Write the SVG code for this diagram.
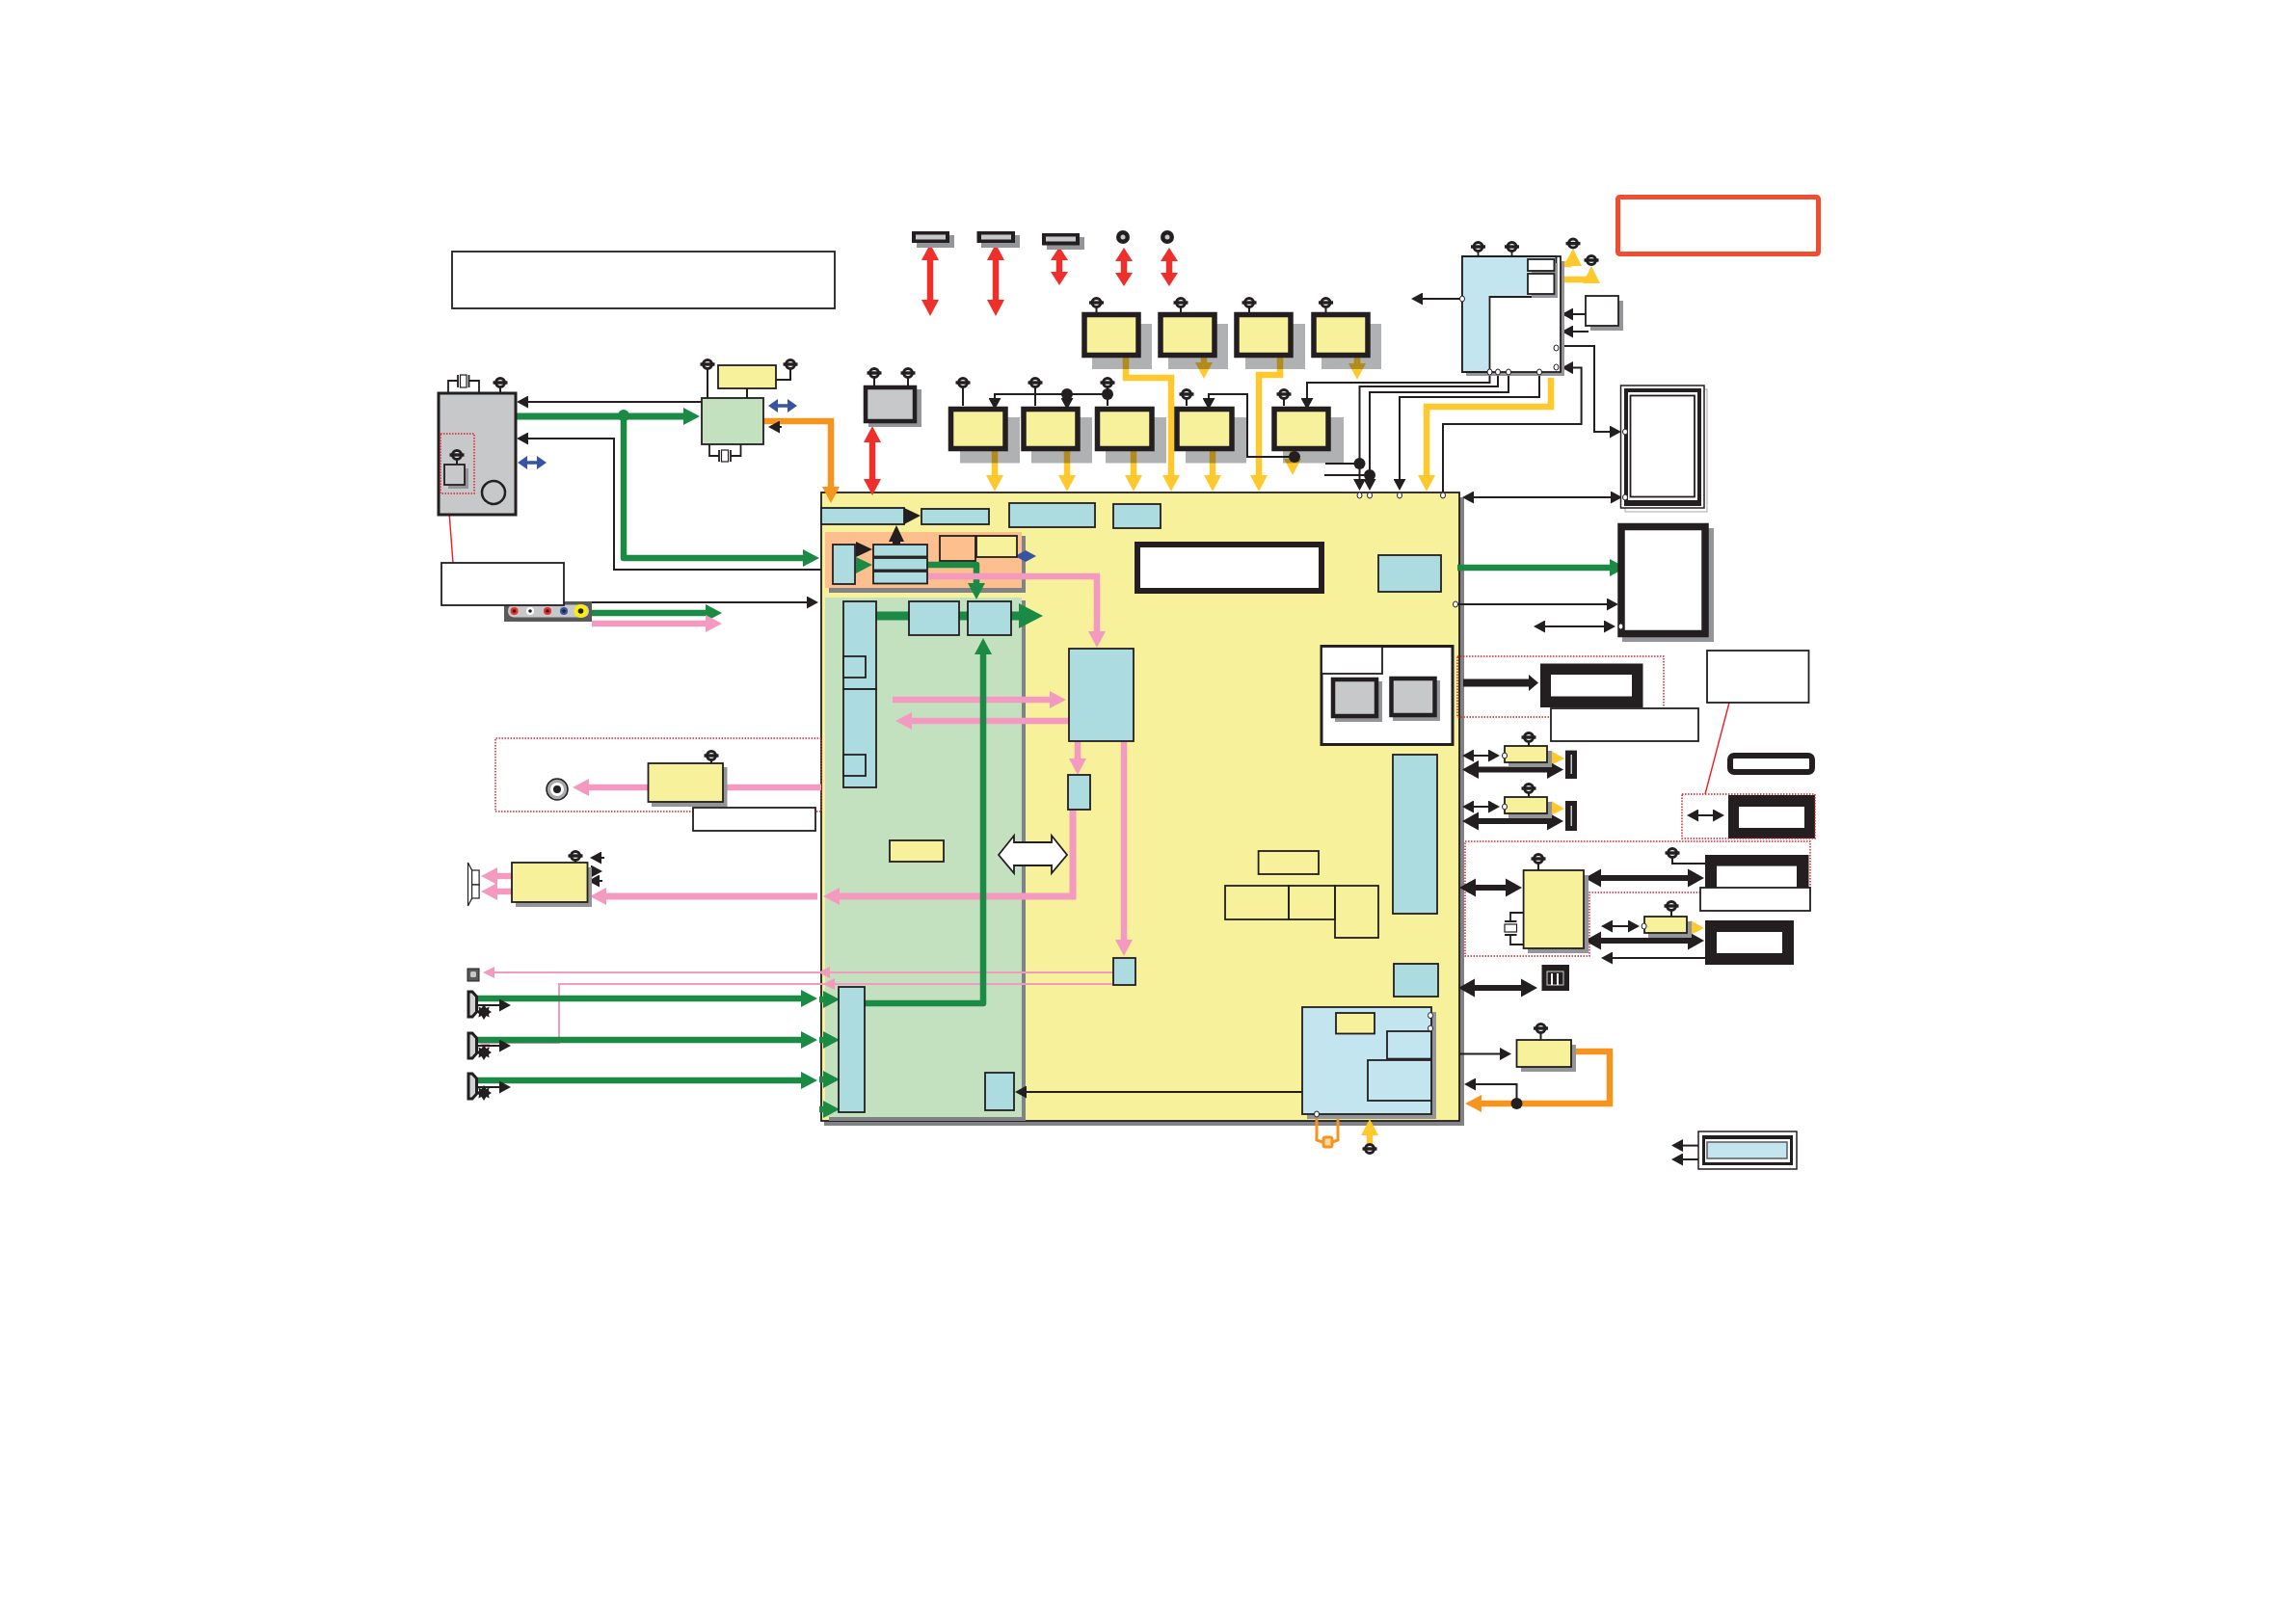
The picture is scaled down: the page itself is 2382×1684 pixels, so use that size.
<svg xmlns="http://www.w3.org/2000/svg" width="2382" height="1684" viewBox="0 0 2382 1684">
<style>
.n{stroke:#231f20;stroke-width:1.8}
.w{fill:#fff}.yb{fill:#f6f19a}.t{fill:#acdce0}.lb{fill:#c2e5ef}.gb{fill:#c4e1bf}.ob{fill:#fdbf8d}.gy{fill:#c7c8ca}
.nl{fill:none}
.sh{fill:#939598}.sl{fill:#b0b1b3;mix-blend-mode:multiply}.bar{fill:#808285}
.tb{stroke:#231f20;stroke-width:5.5}
.k{stroke:#231f20;stroke-width:2;fill:none}
.ks{stroke:#231f20;stroke-width:1.8;fill:none}
.kb{fill:#231f20}
.g{stroke:#1b8a44;stroke-width:6.5;fill:none;stroke-linejoin:round}
.p{stroke:#f49ac1;stroke-width:6.5;fill:none}
.pt{stroke:#f49ac1;stroke-width:2;fill:none}
.y{stroke:#ffc82c;stroke-width:6.5;fill:none}
.o{stroke:#f7941e;stroke-width:6.5;fill:none}
.r{stroke:#ee2f2b;stroke-width:6.5;fill:none}
.bl{stroke:#3953a4;stroke-width:3.5;fill:none}
.kt{stroke:#231f20;stroke-width:6;fill:none}
.dot{fill:none;stroke:#e2202c;stroke-width:1.5;stroke-dasharray:1.5 1.5}
.port{fill:#fff;stroke:#231f20;stroke-width:1}
</style>
<defs>
<marker id="hG" markerUnits="userSpaceOnUse" markerWidth="18" markerHeight="18" refX="1" refY="9" viewBox="0 0 18 18" orient="auto-start-reverse"><path d="M0 0L17 9L0 18Z" fill="#1b8a44"/></marker>
<marker id="hGL" markerUnits="userSpaceOnUse" markerWidth="26" markerHeight="26" refX="1" refY="13" viewBox="0 0 26 26" orient="auto"><path d="M0 0L25 13L0 26Z" fill="#1b8a44"/></marker>
<marker id="hP" markerUnits="userSpaceOnUse" markerWidth="18" markerHeight="18" refX="1" refY="9" viewBox="0 0 18 18" orient="auto-start-reverse"><path d="M0 0L17 9L0 18Z" fill="#f49ac1"/></marker>
<marker id="hPs" markerUnits="userSpaceOnUse" markerWidth="12" markerHeight="12" refX="1" refY="6" viewBox="0 0 12 12" orient="auto"><path d="M0 0L12 6L0 12Z" fill="#f49ac1"/></marker>
<marker id="hY" markerUnits="userSpaceOnUse" markerWidth="18" markerHeight="18" refX="1" refY="9" viewBox="0 0 18 18" orient="auto"><path d="M0 0L17 9L0 18Z" fill="#ffc82c"/></marker>
<marker id="hO" markerUnits="userSpaceOnUse" markerWidth="18" markerHeight="18" refX="1" refY="9" viewBox="0 0 18 18" orient="auto"><path d="M0 0L17 9L0 18Z" fill="#f7941e"/></marker>
<marker id="hR" markerUnits="userSpaceOnUse" markerWidth="18" markerHeight="18" refX="1" refY="9" viewBox="0 0 18 18" orient="auto-start-reverse"><path d="M0 0L17 9L0 18Z" fill="#ee2f2b"/></marker>
<marker id="hRs" markerUnits="userSpaceOnUse" markerWidth="15" markerHeight="18" refX="1" refY="9" viewBox="0 0 15 18" orient="auto-start-reverse"><path d="M0 0L14 9L0 18Z" fill="#ee2f2b"/></marker>
<marker id="hK" markerUnits="userSpaceOnUse" markerWidth="13" markerHeight="13" refX="1" refY="6.5" viewBox="0 0 13 13" orient="auto-start-reverse"><path d="M0 0L12 6.500L0 13Z" fill="#231f20"/></marker>
<marker id="hKL" markerUnits="userSpaceOnUse" markerWidth="18" markerHeight="20" refX="1" refY="10" viewBox="0 0 18 20" orient="auto-start-reverse"><path d="M0 0.500L17 10L0 19.500Z" fill="#231f20"/></marker>
<marker id="hKM" markerUnits="userSpaceOnUse" markerWidth="11" markerHeight="18" refX="1" refY="9" viewBox="0 0 11 18" orient="auto"><path d="M0 0.5L10 9L0 17.5Z" fill="#231f20"/></marker>
<marker id="hB" markerUnits="userSpaceOnUse" markerWidth="11" markerHeight="14" refX="1" refY="7" viewBox="0 0 11 14" orient="auto-start-reverse"><path d="M0 0L10 7L0 14Z" fill="#3953a4"/></marker>
<g id="pw"><circle r="4.5" fill="#fff" stroke="#231f20" stroke-width="3"/><rect x="-7.500" y="-1.700" width="15" height="3.400" fill="#231f20"/></g>
<polygon id="st" fill="#231f20" points="0,-8 2.500,-4 5.600,-5.600 5,-2 8,0 5,2 5.600,5.600 2.500,4 0,8 -2.500,4 -5.600,5.600 -5,2 -8,0 -5,-2 -5.600,-5.600 -2.500,-4"/>
<path id="plug" d="M0 0H4L8.500 5V21L4 26H0Z" fill="#d1d3d4" stroke="#231f20" stroke-width="3"/>
</defs>

<g id="chip-board">
<rect x="855" y="516" width="664" height="652" class="bar"/>
<rect x="852" y="511" width="662" height="652" class="yb n"/>
<rect x="860" y="556" width="204" height="59" class="bar"/>
<rect x="856" y="552" width="204" height="58" class="ob"/>
<rect x="860" y="623" width="204" height="540" class="bar"/>
<rect x="856" y="620" width="204" height="539" class="gb"/>
</g>

<g id="dotted-frames">
<path class="dot" d="M852 766H514V842H852V766"/>
<path class="dot" d="M1512 681H1726V744H1512Z"/>
<path class="dot" d="M1520 873H1878V926H1649V992H1520Z"/>
</g>

<g id="connectors">
<path class="g" d="M535 432H710" marker-end="url(#hG)" style="stroke-width:7"/>
<path class="g" d="M647 432V579H834" marker-end="url(#hG)"/>
<path class="g" d="M614 636H733" marker-end="url(#hG)"/>
<path class="g" d="M962 586H1013V606" marker-end="url(#hG)"/>
<path class="g" d="M909 639H1058" marker-end="url(#hGL)" style="stroke-width:9"/>
<path class="p" d="M614 647H733" marker-end="url(#hP)"/>
<path class="p" d="M962 598H1138V656" marker-end="url(#hP)"/>
<path class="p" d="M926 726H1090" marker-end="url(#hP)"/>
<path class="p" d="M1109 748H945" marker-end="url(#hP)"/>
<path class="p" d="M1118 769V788" marker-end="url(#hP)"/>
<path class="p" d="M1113 840V930H870" marker-end="url(#hP)" style="stroke-width:7"/>
<path class="p" d="M1166 769V976" marker-end="url(#hP)"/>
<path class="p" d="M852 817H750"/>
<path class="p" d="M672 817H610" marker-end="url(#hP)"/>
<path class="p" d="M848 930H628" marker-end="url(#hP)" style="stroke-width:7"/>
<path class="p" d="M531 909H515" marker-end="url(#hP)"/>
<path class="p" d="M531 925H515" marker-end="url(#hP)"/>
<path class="pt" d="M1155 1009H512" marker-end="url(#hPs)"/>
<path class="pt" d="M872 1009H860" marker-end="url(#hPs)"/>
<path class="pt" d="M1155 1021H580V1082H507" marker-end="url(#hPs)"/>
<path class="pt" d="M880 1021H865" marker-end="url(#hPs)"/>
<path class="g" d="M897 1041H1020V678" marker-end="url(#hG)"/>
<path class="g" d="M494 1036H832" marker-end="url(#hG)"/>
<path class="g" d="M494 1079H832" marker-end="url(#hG)"/>
<path class="g" d="M494 1121H832" marker-end="url(#hG)"/>
<path class="g" d="M850 1037H855" marker-end="url(#hG)"/>
<path class="g" d="M850 1079H855" marker-end="url(#hG)"/>
<path class="g" d="M850 1120H855" marker-end="url(#hG)"/>
<path class="g" d="M850 1151H855" marker-end="url(#hG)"/>
<path class="g" d="M1512 589H1671" marker-end="url(#hG)"/>
<polygon points="888,578 905,586 888,595" fill="#1b8a44"/>
<circle cx="647" cy="431" r="6" fill="#1b8a44"/>
<path class="y" d="M1168 371V392H1215V494" marker-end="url(#hY)"/>
<path class="y" d="M1249 371V377" marker-end="url(#hY)"/>
<path class="y" d="M1328 371V389H1306V494" marker-end="url(#hY)"/>
<path class="y" d="M1408 371V378" marker-end="url(#hY)"/>
<path class="y" d="M1032 468V494" marker-end="url(#hY)"/>
<path class="y" d="M1107 468V494" marker-end="url(#hY)"/>
<path class="y" d="M1176 468V494" marker-end="url(#hY)"/>
<path class="y" d="M1258 468V494" marker-end="url(#hY)"/>
<path class="y" d="M1341 468V477" marker-end="url(#hY)"/>
<path class="y" d="M1609 392V422H1480V494" marker-end="url(#hY)"/>
<path class="y" d="M1612 274H1630"/>
<polygon points="1622,276 1632,258 1641,276" fill="#ffc82c"/>
<path class="y" d="M1618 290H1651"/>
<polygon points="1642,294 1651,276 1660,294" fill="#ffc82c"/>
<path class="y" d="M1421 1188V1177" marker-end="url(#hY)"/>
<polygon points="1609,779 1623,787 1609,794" fill="#ffc82c"/>
<polygon points="1609,831 1623,839 1609,846" fill="#ffc82c"/>
<polygon points="1754,955 1768,963 1754,970" fill="#ffc82c"/>
<path class="o" d="M792 437H862V506" marker-end="url(#hO)"/>
<path class="o" d="M1630 1091H1670V1145H1536" marker-end="url(#hO)"/>
<path d="M1366 1156V1183L1372 1185M1388 1156V1183L1382 1185" fill="none" stroke="#f7941e" stroke-width="3"/>
<rect x="1373" y="1180" width="9" height="10" rx="2" fill="#fdd9a8" stroke="#f7941e" stroke-width="3"/>
<path class="r" d="M905 458V498" marker-start="url(#hR)" marker-end="url(#hR)"/>
<path class="r" d="M965 269V312" marker-start="url(#hR)" marker-end="url(#hR)"/>
<path class="r" d="M1033 269V312" marker-start="url(#hR)" marker-end="url(#hR)"/>
<path class="r" d="M1099 269V283" marker-start="url(#hRs)" marker-end="url(#hRs)"/>
<path class="r" d="M1166 270V284" marker-start="url(#hRs)" marker-end="url(#hRs)"/>
<path class="r" d="M1213 270V284" marker-start="url(#hRs)" marker-end="url(#hRs)"/>
<path class="bl" d="M806 421H818" marker-start="url(#hB)" marker-end="url(#hB)"/>
<path class="bl" d="M546 480H558" marker-start="url(#hB)" marker-end="url(#hB)"/>
<polygon points="1053,577 1064,571 1075,577 1064,583" fill="#3953a4"/>
<path class="k" d="M728 417H547" marker-end="url(#hK)"/>
<path class="k" d="M852 591H637V455H547" marker-end="url(#hK)"/>
<path class="k" d="M614 625H838" marker-end="url(#hK)"/>
<path class="k" d="M811 443H808" marker-end="url(#hK)"/>
<path class="k" d="M1149 409H1032V414" marker-end="url(#hK)"/>
<path class="k" d="M1107 409V414" marker-end="url(#hK)"/>
<path class="k" d="M1343 474H1294V409H1254V414" marker-end="url(#hK)"/>
<path class="k" d="M1545.500 386V397H1356V414" marker-end="url(#hK)"/>
<path class="k" d="M1554 386V401H1410.500V498" marker-end="url(#hK)"/>
<path class="k" d="M1565 386V407H1421V498" marker-end="url(#hK)"/>
<path class="k" d="M1597 386V412H1452V498" marker-end="url(#hK)"/>
<path class="k" d="M1375 481H1410M1374 493H1421"/>
<path class="k" d="M1614.500 359H1654V448H1671" marker-end="url(#hK)"/>
<path class="k" d="M1497 514V440H1640.600V381.600H1631" marker-end="url(#hK)"/>
<path class="k" d="M1517 310H1475" marker-end="url(#hK)"/>
<path class="k" d="M1645 326H1631" marker-end="url(#hK)"/>
<path class="k" d="M1648 344H1631" marker-end="url(#hK)"/>
<path class="k" d="M1528 516H1672" marker-start="url(#hK)" marker-end="url(#hK)"/>
<path class="k" d="M1510 627H1668" marker-end="url(#hK)"/>
<path class="k" d="M1602 650H1665" marker-start="url(#hK)" marker-end="url(#hK)"/>
<path class="k" d="M1528 784H1545" marker-start="url(#hK)" marker-end="url(#hK)"/>
<path class="k" d="M1528 837H1545" marker-start="url(#hK)" marker-end="url(#hK)"/>
<path class="k" d="M1672 961H1690" marker-start="url(#hK)" marker-end="url(#hK)"/>
<path class="k" d="M1769 994H1672" marker-end="url(#hK)"/>
<path class="k" d="M1761 846H1778" marker-start="url(#hK)" marker-end="url(#hK)"/>
<path class="k" d="M1514 1093.600H1557" marker-end="url(#hK)"/>
<path class="k" d="M1573.500 1145V1125H1530" marker-end="url(#hK)"/>
<path class="k" d="M1762 1188.600H1745" marker-end="url(#hK)"/>
<path class="k" d="M1762 1203H1745" marker-end="url(#hK)"/>
<path class="k" d="M1366 1156V1133H1064" marker-end="url(#hK)"/>
<path class="k" d="M495 1043H519" marker-end="url(#hK)"/>
<path class="k" d="M495 1085H519" marker-end="url(#hK)"/>
<path class="k" d="M495 1128H519" marker-end="url(#hK)"/>
<path class="k" d="M627 890H623" marker-end="url(#hK)"/>
<path class="k" d="M610 904H614" marker-end="url(#hK)"/>
<path class="k" d="M625 914H621" marker-end="url(#hK)"/>
<path class="kt" d="M1518 708.600H1587" marker-end="url(#hKM)" style="stroke-width:8"/>
<path class="kt" d="M1533 798.600H1606" marker-start="url(#hKL)" marker-end="url(#hKL)"/>
<path class="kt" d="M1533 852H1606" marker-start="url(#hKL)" marker-end="url(#hKL)"/>
<path class="kt" d="M1530 921H1563" marker-start="url(#hKL)" marker-end="url(#hKL)"/>
<path class="kt" d="M1660 911H1752" marker-start="url(#hKL)" marker-end="url(#hKL)"/>
<path class="kt" d="M1660 976H1752" marker-start="url(#hKL)" marker-end="url(#hKL)"/>
<path class="kt" d="M1529 1025H1579" marker-start="url(#hKL)" marker-end="url(#hKL)"/>
<polygon class="kb" points="938,527 955,535 938,544"/>
<polygon class="kb" points="922,562 930,545 938,562 934,562 934,565 926,565 926,562"/>
<polygon class="kb" points="888,562 905,570 888,578"/>
<circle class="kb" cx="1149" cy="409" r="6"/><circle class="kb" cx="1107" cy="409" r="6"/>
<circle class="kb" cx="1410.500" cy="481" r="6"/><circle class="kb" cx="1421" cy="493" r="6"/>
<circle class="kb" cx="1573.500" cy="1145" r="6"/>
<path d="M464.500 512L470 584" stroke="#ed1c24" stroke-width="1.400" fill="none"/>
<path d="M1794 729L1769 824" stroke="#ed1c24" stroke-width="1.400" fill="none"/>
</g>

<g id="note-top"><rect x="469" y="261" width="397" height="59" class="w n"/></g>
<g id="note-red"><rect x="1678.500" y="204.500" width="208" height="59" rx="2" fill="#fff" stroke="#f04e30" stroke-width="5"/></g>

<g id="hdd">
<rect x="455" y="408" width="80" height="126" class="gy" stroke="#231f20" stroke-width="3"/>
<path class="ks" d="M465 408V395H475M475 389V402M486.500 389V402M486.500 395H497V408"/><rect x="477.500" y="389" width="6.500" height="13" class="w n" style="stroke-width:1.200"/>
<path class="k" d="M519 397V408M474 472V482"/><use href="#pw" x="519" y="397"/><use href="#pw" x="474" y="472"/>
<rect x="457" y="450" width="35" height="62" class="dot"/>
<rect x="465" y="486" width="21" height="21" class="sh"/>
<rect x="461" y="482" width="21" height="21" class="gy n"/>
<circle cx="512" cy="511" r="12" fill="none" stroke="#231f20" stroke-width="2.500"/>
</g>

<g id="bridge">
<path class="k" d="M734 378V413M820 378V394H805M775 403V413"/>
<use href="#pw" x="734" y="378"/><use href="#pw" x="820" y="378"/>
<rect x="745" y="379" width="60" height="24" class="yb n"/>
<rect x="728" y="413" width="64" height="48" class="gb n"/>
<path class="ks" d="M736 461V473H746M746 467V479M758 467V479M758 473H768.500V461"/><rect x="748.500" y="467" width="7" height="12" class="w n" style="stroke-width:1.200"/>
</g>

<g id="gray-chip">
<path class="k" d="M907 387V400M942 387V400"/><use href="#pw" x="907" y="387"/><use href="#pw" x="942" y="387"/>
<rect x="901" y="404" width="55" height="39" class="sh"/>
<rect x="898" y="402" width="51" height="35" class="gy tb" style="stroke-width:4.500"/>
</g>

<g id="usb-1"><rect x="951" y="244" width="39" height="13" class="sh"/><rect x="946" y="240" width="39" height="12" class="kb"/><rect x="950" y="243.500" width="31" height="5" class="gy"/></g>
<g id="usb-2"><rect x="1018" y="244" width="40" height="13" class="sh"/><rect x="1013.500" y="240" width="39.500" height="12" class="kb"/><rect x="1018" y="243.500" width="31" height="5" class="gy"/></g>
<g id="usb-3"><rect x="1086" y="246" width="39" height="13" class="sh"/><rect x="1081" y="242" width="39" height="12.500" class="kb"/><rect x="1085" y="245.500" width="31" height="5" class="gy"/></g>
<g id="jack-1"><circle cx="1165" cy="246" r="7" class="kb"/><circle cx="1165" cy="246" r="2.500" class="gy"/></g>
<g id="jack-2"><circle cx="1211" cy="246" r="7" class="kb"/><circle cx="1211" cy="246" r="2.500" class="gy"/></g>

<g id="u1"><rect x="1133" y="336" width="62" height="47" class="sl"/><path class="k" d="M1137.500 314V324"/><use href="#pw" x="1137.500" y="314"/><rect x="1125" y="326.500" width="56" height="42" class="yb tb"/></g>
<g id="u2"><rect x="1212" y="336" width="62" height="47" class="sl"/><path class="k" d="M1225 314V324"/><use href="#pw" x="1225" y="314"/><rect x="1204" y="326.500" width="56" height="42" class="yb tb"/></g>
<g id="u3"><rect x="1292" y="336" width="62" height="47" class="sl"/><path class="k" d="M1296 314V324"/><use href="#pw" x="1296" y="314"/><rect x="1283" y="326.500" width="56" height="42" class="yb tb"/></g>
<g id="u4"><rect x="1371" y="336" width="62" height="47" class="sl"/><path class="k" d="M1375.500 314V324"/><use href="#pw" x="1375.500" y="314"/><rect x="1363" y="326.500" width="56" height="42" class="yb tb"/></g>

<g id="l1"><rect x="996" y="433" width="62" height="47.500" class="sl"/><path class="k" d="M999 397V421"/><use href="#pw" x="999" y="397"/><rect x="986.500" y="424.500" width="56.500" height="41" class="yb tb"/></g>
<g id="l2"><rect x="1070" y="433" width="63" height="47.500" class="sl"/><path class="k" d="M1074 397V421"/><use href="#pw" x="1074" y="397"/><rect x="1062" y="424.500" width="56" height="41" class="yb tb"/></g>
<g id="l3"><rect x="1147" y="433" width="63" height="47.500" class="sl"/><path class="k" d="M1149 397V421"/><use href="#pw" x="1149" y="397"/><rect x="1138.500" y="424.500" width="56.500" height="41" class="yb tb"/></g>
<g id="l4"><rect x="1230" y="433" width="63" height="47.500" class="sl"/><path class="k" d="M1231 409V421"/><use href="#pw" x="1231" y="409"/><rect x="1221" y="424.500" width="57" height="41" class="yb tb"/></g>
<g id="l5"><rect x="1331" y="433" width="63" height="47.500" class="sl"/><path class="k" d="M1332 409V421"/><use href="#pw" x="1332" y="409"/><rect x="1322" y="424.500" width="56" height="41" class="yb tb"/></g>
<circle class="kb" cx="1343" cy="474" r="6"/>

<g id="pcmcia">
<path class="ks" d="M1533.500 256V266M1568.500 256V266"/><use href="#pw" x="1533.500" y="256"/><use href="#pw" x="1568.500" y="256"/><use href="#pw" x="1632" y="252.600"/><use href="#pw" x="1651" y="270"/>
<rect x="1521" y="271" width="102" height="119" class="sh"/>
<rect x="1517" y="266" width="102" height="120" class="w n"/>
<path class="lb n" d="M1517 266H1614.500V308H1545.500V386H1517Z"/>
<rect x="1589" y="273" width="27" height="36" class="sh"/>
<rect x="1585" y="269" width="27.400" height="12" class="w n"/>
<rect x="1585" y="284" width="27.400" height="21" class="w n"/>
<ellipse class="port" cx="1517" cy="310" rx="2.500" ry="3"/><ellipse class="port" cx="1545.500" cy="386" rx="2.500" ry="3"/><ellipse class="port" cx="1554" cy="386" rx="2.500" ry="3"/><ellipse class="port" cx="1565" cy="386" rx="2.500" ry="3"/><ellipse class="port" cx="1597" cy="386" rx="2.500" ry="3"/><ellipse class="port" cx="1614.500" cy="361" rx="2.500" ry="3"/><ellipse class="port" cx="1614.500" cy="381" rx="2.500" ry="3"/>
</g>
<g id="small-white"><rect x="1650" y="312" width="34" height="31" class="sh"/><rect x="1645" y="307" width="34" height="31" class="w n"/></g>

<g id="lcd">
<rect x="1686" y="404" width="85" height="127" class="w" stroke="#a7a9ac" stroke-width="1"/>
<rect x="1681.500" y="400" width="86.500" height="127" class="w n" style="stroke-width:1.500"/>
<rect x="1685" y="403" width="80" height="122" class="kb"/>
<rect x="1689" y="407" width="72" height="112" class="w"/>
<rect x="1691.500" y="410.500" width="66.500" height="105" class="w n" style="stroke-width:1.800"/>
<ellipse class="port" cx="1686" cy="448" rx="2.500" ry="3"/><ellipse class="port" cx="1686" cy="516" rx="2.500" ry="3"/>
</g>

<g id="monitor">
<rect x="1683" y="548" width="95" height="118" class="sh"/>
<rect x="1682" y="546.500" width="87" height="111" class="w" stroke="#231f20" stroke-width="7.500"/>
<ellipse class="port" cx="1681.500" cy="650" rx="2.500" ry="3"/>
</g>
<ellipse class="port" cx="1510" cy="627" rx="2.500" ry="3"/>
<ellipse class="port" cx="1410.500" cy="514" rx="2.500" ry="3"/><ellipse class="port" cx="1421" cy="514" rx="2.500" ry="3"/><ellipse class="port" cx="1452" cy="514" rx="2.500" ry="3"/><ellipse class="port" cx="1497" cy="514" rx="2.500" ry="3"/>

<g id="chip-blocks">
<rect x="852" y="527" width="86" height="17" class="t n"/>
<rect x="956" y="528" width="70" height="16" class="t n"/>
<rect x="1047" y="522" width="89" height="25" class="t n"/>
<rect x="1155" y="523" width="49" height="25" class="t n"/>
<rect x="864" y="565" width="23" height="41" class="t n"/>
<rect x="906" y="565" width="56" height="12.500" class="t n"/>
<rect x="906" y="579" width="56" height="12.500" class="t n"/>
<rect x="906" y="593" width="56" height="12.500" class="t n"/>
<rect x="975" y="556" width="37" height="26" class="ob n"/>
<rect x="1013" y="556" width="42" height="22" class="yb n"/>
<rect x="875" y="624" width="34" height="91" class="t n"/>
<rect x="875" y="681" width="23" height="22" class="t n"/>
<rect x="875" y="715" width="34" height="102" class="t n"/>
<rect x="875" y="783" width="23" height="22" class="t n"/>
<rect x="943" y="624" width="52" height="35" class="t n"/>
<rect x="1004" y="624" width="45" height="35" class="t n"/>
<rect x="1109" y="673" width="67" height="96" class="t n"/>
<rect x="1108" y="804" width="23" height="36" class="t n"/>
<rect x="1155" y="994" width="23" height="28" class="t n"/>
<rect x="870" y="1024" width="27" height="130" class="t n"/>
<rect x="1022" y="1113" width="30" height="39" class="t n"/>
<rect x="923" y="872" width="56" height="22" class="yb n"/>
<path class="w n" d="M1036 887L1052 867V874H1091V867L1107 887L1091 906V898H1052V906Z"/>
<rect x="1180" y="565" width="191" height="48" class="w" stroke="#231f20" stroke-width="6"/>
<rect x="1430" y="576" width="65" height="38" class="t n"/>
<rect x="1445" y="783" width="46" height="165" class="t n"/>
<rect x="1446" y="1000" width="46" height="34" class="t n"/>
<rect x="1305.600" y="883" width="62.400" height="24" class="nl n"/>
<rect x="1271" y="919" width="66" height="35" class="nl n"/>
<rect x="1337" y="919" width="48" height="35" class="nl n"/>
<rect x="1385" y="919" width="45" height="54" class="nl n"/>
</g>

<g id="gpu-module">
<rect x="1371" y="670.500" width="136" height="102" class="w" stroke="#231f20" stroke-width="3"/>
<rect x="1371" y="671" width="63" height="28" class="w n"/>
<rect x="1385" y="707" width="49" height="42" class="sh"/><rect x="1383" y="705" width="45" height="38" class="gy tb" style="stroke-width:4.500"/>
<rect x="1445" y="706" width="49" height="42" class="sh"/><rect x="1443.500" y="704" width="45" height="38" class="gy tb" style="stroke-width:4.500"/>
</g>

<g id="south-module">
<rect x="1356" y="1050" width="134" height="111" class="sh"/>
<rect x="1351" y="1045" width="134" height="111" class="lb n"/>
<rect x="1386" y="1051" width="40" height="21.500" class="yb n"/>
<rect x="1439" y="1070" width="46" height="28.600" class="lb n"/>
<rect x="1419" y="1100" width="66" height="42" class="lb n"/>
<ellipse class="port" cx="1484" cy="1053.600" rx="2.500" ry="3"/><ellipse class="port" cx="1484" cy="1067" rx="2.500" ry="3"/><ellipse class="port" cx="1366" cy="1156" rx="2.500" ry="3"/>
<use href="#pw" x="1421" y="1192"/>
</g>

<g id="jack-panel">
<rect x="523" y="624" width="91" height="21" fill="#58595b"/>
<rect x="527" y="627.500" width="84" height="13" rx="6" class="gy"/>
<circle cx="533.500" cy="634" r="4" fill="#ee2f2b"/><circle cx="533.500" cy="634" r="1.800" class="kb"/>
<circle cx="550" cy="634" r="4" fill="#fff"/><circle cx="550" cy="634" r="1.800" class="kb"/>
<circle cx="568" cy="634" r="4" fill="#ee2f2b"/><circle cx="568" cy="634" r="1.800" class="kb"/>
<circle cx="585" cy="634" r="4" fill="#3953a4"/><circle cx="585" cy="634" r="1.800" class="kb"/>
<circle cx="602.500" cy="634" r="7" fill="#ffed00"/><circle cx="602.500" cy="634" r="2.800" class="kb"/>
</g>
<g id="note-left"><rect x="458" y="584" width="127" height="44" class="w n"/></g>

<g id="spdif">
<rect x="676" y="796" width="78.500" height="41" class="sh"/>
<path class="k" d="M738 784V792"/><use href="#pw" x="738" y="784"/>
<rect x="672.500" y="792" width="77.500" height="40" class="yb n"/>
<circle cx="578" cy="819" r="11" fill="#a7a9ac" stroke="#231f20" stroke-width="1.500"/><circle cx="578" cy="819" r="7" fill="#fff"/><circle cx="578" cy="819" r="4" class="kb"/>
</g>
<g id="note-spdif"><rect x="719" y="838" width="127" height="24" class="w n"/></g>

<g id="amp">
<rect x="535" y="900" width="79" height="41" class="sh"/>
<path class="k" d="M597 888V895"/><use href="#pw" x="597" y="888"/>
<rect x="531" y="895" width="78.500" height="41" class="yb n"/>
<path d="M485.500 895L489.600 903V932L485.500 940Z" class="w n" style="stroke-width:1.200"/>
<rect x="489.600" y="903" width="7.500" height="15" class="w n" style="stroke-width:1.200"/>
<rect x="489.600" y="918" width="7.500" height="14" class="w n" style="stroke-width:1.200"/>
</g>

<g id="left-ports">
<rect x="485" y="1005" width="12" height="13" fill="#58595b" stroke="#231f20"/><rect x="488" y="1008" width="6" height="6" rx="1.500" class="gy"/>
<use href="#plug" x="486" y="1029"/><use href="#plug" x="486" y="1072"/><use href="#plug" x="486" y="1114"/>
<use href="#st" x="502" y="1050"/><use href="#st" x="502" y="1092"/><use href="#st" x="502" y="1134"/>
</g>

<g id="dvi">
<rect x="1598" y="688.500" width="106.500" height="45.500" class="kb"/><rect x="1609" y="700" width="84" height="22.500" class="w"/>
</g>
<g id="note-dvi"><rect x="1609" y="735" width="153" height="34" class="w n"/></g>
<g id="note-right"><rect x="1771" y="675" width="105.500" height="54" class="w n"/></g>

<g id="sata-1">
<rect x="1565" y="779" width="45" height="17" class="sh"/><path class="k" d="M1586 765V774"/><use href="#pw" x="1586" y="765"/>
<rect x="1561" y="774" width="44" height="17" class="yb n"/><ellipse class="port" cx="1561" cy="784" rx="2.500" ry="3"/>
<rect x="1624" y="778.600" width="12" height="29.400" class="kb"/><rect x="1629.500" y="783" width="1.500" height="20" class="gy"/>
</g>
<g id="sata-2">
<rect x="1565" y="832" width="45" height="17" class="sh"/><path class="k" d="M1586 818V827"/><use href="#pw" x="1586" y="818"/>
<rect x="1561" y="827" width="44" height="17" class="yb n"/><ellipse class="port" cx="1561" cy="837" rx="2.500" ry="3"/>
<rect x="1624" y="831" width="12" height="31" class="kb"/><rect x="1629.500" y="836" width="1.500" height="21" class="gy"/>
</g>
<g id="rounded-port"><rect x="1795" y="784" width="85" height="17" rx="4" class="w" stroke="#231f20" stroke-width="6"/></g>
<g id="port-box"><rect x="1793" y="825" width="90" height="45" class="kb"/><rect x="1804" y="837" width="68" height="22" class="w"/><rect x="1745" y="824" width="138" height="46" class="dot"/></g>

<g id="controller">
<rect x="1585" y="908" width="63" height="81" class="sh"/>
<path class="k" d="M1596 891V903"/><use href="#pw" x="1596" y="891"/>
<rect x="1580.600" y="903" width="62.400" height="81" class="yb n"/>
<path class="ks" d="M1580 947H1567V956M1561 956H1573.500M1561 970H1573.500M1567 970V980H1580"/><rect x="1561" y="959" width="12.500" height="8" class="w n" style="stroke-width:1.200"/>
</g>
<g id="usb-display"><path class="k" d="M1735 885V896H1769"/><use href="#pw" x="1735" y="885"/><rect x="1769" y="887" width="107.500" height="34" class="kb"/><rect x="1781" y="898.600" width="83" height="22.400" class="w"/></g>
<g id="note-usb"><rect x="1764" y="921" width="114" height="24" class="w n"/></g>
<g id="sata-3">
<rect x="1710" y="956" width="45" height="17" class="sh"/><path class="k" d="M1734 940V951"/><use href="#pw" x="1734" y="940"/>
<rect x="1706" y="951" width="44" height="17" class="yb n"/><ellipse class="port" cx="1705.600" cy="961" rx="2.500" ry="3"/>
</g>
<g id="port-box-2"><rect x="1769" y="955" width="92" height="46" class="kb"/><rect x="1781" y="967" width="68" height="22" class="w"/></g>
<g id="connector-box"><rect x="1599.500" y="1001" width="28.500" height="27" class="kb"/><rect x="1605" y="1008" width="17" height="14" fill="none" stroke="#d1d3d4" stroke-width="1"/><path d="M1610 1010V1022M1616 1010V1022" stroke="#fff" stroke-width="2"/></g>

<g id="ec">
<rect x="1578" y="1084" width="57" height="28" class="sh"/>
<path class="k" d="M1598.500 1067V1079"/><use href="#pw" x="1598.500" y="1067"/>
<rect x="1573.500" y="1079" width="56.500" height="28" class="yb n"/>
</g>

<g id="bottom-connector">
<rect x="1762" y="1174" width="102" height="39" class="w n" style="stroke-width:1.500"/>
<rect x="1766" y="1178" width="94" height="31" class="kb"/>
<rect x="1769" y="1182" width="88" height="24" class="w"/>
<rect x="1771" y="1185" width="83" height="17" class="lb" stroke="#58595b" stroke-width="1.500"/>
</g>
</svg>
